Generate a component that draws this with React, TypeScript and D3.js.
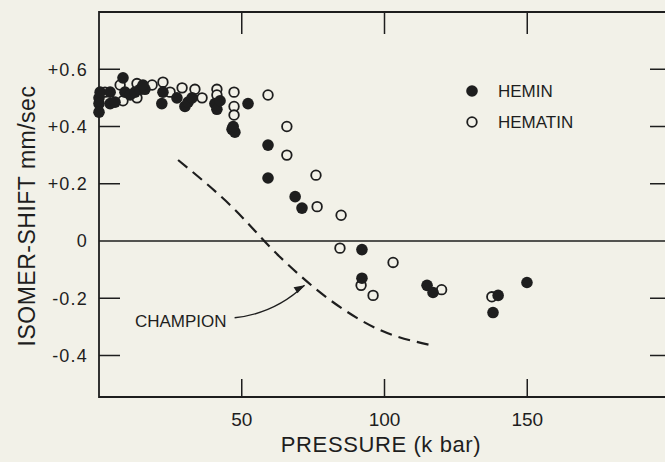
import { useEffect, useRef } from 'react'
import * as d3 from 'd3'

// Mössbauer isomer shift vs pressure
const heminX = [0, 0, 0, 0.4, 3.9, 3.9, 5.6, 8.4, 9.1, 10.9, 12.6, 14.4, 16.1, 15.4, 22, 22.4, 27.3, 30.1, 31.2, 32.6, 40.6, 41.3, 42.4, 46.6, 47.6, 47, 52.2, 59.2, 59.2, 68.7, 71.1, 92.1, 92.1, 114.9, 117, 139.8, 138, 149.9]
const heminY = [0.50, 0.48, 0.45, 0.52, 0.52, 0.48, 0.485, 0.57, 0.52, 0.51, 0.52, 0.53, 0.53, 0.545, 0.48, 0.52, 0.50, 0.47, 0.485, 0.50, 0.48, 0.46, 0.49, 0.39, 0.38, 0.40, 0.48, 0.335, 0.22, 0.155, 0.115, -0.03, -0.13, -0.155, -0.18, -0.19, -0.25, -0.145]

const hematinX = [2.1, 7.4, 8.4, 13.3, 13.3, 18.6, 22.4, 24.9, 29.1, 33.6, 36.1, 41.3, 41.3, 47.3, 47.3, 47.3, 59.2, 65.8, 65.8, 76, 76.4, 84.8, 84.4, 103, 91.8, 96, 120, 137.6]
const hematinY = [0.52, 0.545, 0.49, 0.55, 0.50, 0.545, 0.555, 0.52, 0.535, 0.53, 0.50, 0.53, 0.51, 0.52, 0.47, 0.44, 0.51, 0.40, 0.30, 0.23, 0.12, 0.09, -0.025, -0.075, -0.155, -0.19, -0.17, -0.195]

// Champion calculated curve (dashed)
const championX = [27.7, 45.9, 63.4, 80.9, 98.4, 115.9]
const championY = [0.283, 0.126, -0.056, -0.206, -0.311, -0.363]

const xTicks = [50, 100, 150]
const yTicks = [0.6, 0.4, 0.2, 0, -0.2, -0.4]
const yTickLabels = ['+0.6', '+0.4', '+0.2', '0', '-0.2', '-0.4']

const W = 665
const H = 462
const FONT = '"Liberation Sans", Arial, sans-serif'
const INK = '#1e1e1e'
const PAPER = '#f2f1e8'

export default function App() {
  const svgRef = useRef<SVGSVGElement>(null)

  useEffect(() => {
    if (!svgRef.current) return
    document.body.style.margin = '0'
    const svg = d3.select(svgRef.current)
    svg.selectAll('*').remove()

    const x = d3.scaleLinear().domain([0, 200]).range([99, 670])
    const y = d3.scaleLinear().domain([-0.545, 0.8]).range([397, 12])

    svg.append('rect').attr('width', W).attr('height', H).attr('fill', PAPER)

    const g = svg.append('g')

    // frame
    g.append('path')
      .attr('d', `M${x(200)},${y(0.8)}H${x(0)}V${y(-0.545)}H${x(200)}`)
      .attr('fill', 'none').attr('stroke', INK).attr('stroke-width', 1.8)

    // zero line
    g.append('line')
      .attr('x1', x(0)).attr('x2', x(200)).attr('y1', y(0)).attr('y2', y(0))
      .attr('stroke', INK).attr('stroke-width', 1.4)

    // x ticks top & bottom
    for (const t of xTicks) {
      g.append('line').attr('x1', x(t)).attr('x2', x(t)).attr('y1', y(-0.545)).attr('y2', y(-0.545) - 18)
        .attr('stroke', INK).attr('stroke-width', 1.5)
      g.append('line').attr('x1', x(t)).attr('x2', x(t)).attr('y1', y(0.8)).attr('y2', y(0.8) + 22)
        .attr('stroke', INK).attr('stroke-width', 1.5)
      g.append('text').attr('x', x(t)).attr('y', 426)
        .attr('text-anchor', 'middle').attr('font-family', FONT).attr('font-size', 19).attr('fill', INK)
        .text(t)
    }

    // y ticks left & right
    yTicks.forEach((t, i) => {
      if (t !== 0) {
        g.append('line').attr('x1', x(0)).attr('x2', x(0) + 21).attr('y1', y(t)).attr('y2', y(t))
          .attr('stroke', INK).attr('stroke-width', 1.5)
        g.append('line').attr('x1', 650).attr('x2', 670).attr('y1', y(t)).attr('y2', y(t))
          .attr('stroke', INK).attr('stroke-width', 1.5)
      }
      g.append('text').attr('x', 88).attr('y', y(t) + 6.5)
        .attr('text-anchor', 'end').attr('font-family', FONT).attr('font-size', 18).attr('fill', INK)
        .attr('letter-spacing', 1.2)
        .text(yTickLabels[i])
    })

    // axis titles
    g.append('text')
      .attr('transform', `translate(35,216) rotate(-90)`)
      .attr('text-anchor', 'middle').attr('font-family', FONT).attr('font-size', 23).attr('fill', INK)
      .attr('letter-spacing', 0.5)
      .text('ISOMER-SHIFT  mm/sec')
    g.append('text')
      .attr('x', 381).attr('y', 452)
      .attr('text-anchor', 'middle').attr('font-family', FONT).attr('font-size', 22).attr('fill', INK)
      .attr('letter-spacing', 0.6)
      .text('PRESSURE  (k bar)')

    // Champion dashed curve
    const line = d3.line<number>()
      .x((_, i) => x(championX[i]))
      .y(d => y(d))
      .curve(d3.curveMonotoneX)
    g.append('path')
      .datum(championY)
      .attr('d', line)
      .attr('fill', 'none').attr('stroke', INK).attr('stroke-width', 2.2)
      .attr('stroke-dasharray', '12,7')

    // CHAMPION label + arrow
    g.append('text').attr('x', x(12.6)).attr('y', y(-0.275) + 7)
      .attr('font-family', FONT).attr('font-size', 17).attr('fill', INK)
      .text('CHAMPION')
    const ax0 = x(47.5), ay0 = y(-0.268), ax1 = x(72), ay1 = y(-0.155)
    g.append('path')
      .attr('d', `M${ax0},${ay0} Q${ax0 + 40},${ay0 - 4} ${ax1},${ay1}`)
      .attr('fill', 'none').attr('stroke', INK).attr('stroke-width', 1.4)
    g.append('path')
      .attr('d', `M${ax1},${ay1} l-11,2 l4,6 z`)
      .attr('fill', INK)

    // data points
    const heminData = heminX.map((v, i) => [v, heminY[i]])
    const hematinData = hematinX.map((v, i) => [v, hematinY[i]])

    g.append('g').selectAll('circle').data(hematinData).join('circle')
      .attr('cx', d => x(d[0])).attr('cy', d => y(d[1])).attr('r', 4.8)
      .attr('fill', PAPER).attr('stroke', INK).attr('stroke-width', 1.8)
    g.append('g').selectAll('circle').data(heminData).join('circle')
      .attr('cx', d => x(d[0])).attr('cy', d => y(d[1])).attr('r', 5.8)
      .attr('fill', INK)

    // legend
    const lg = g.append('g').attr('transform', 'translate(472,0)')
    lg.append('circle').attr('cx', 0).attr('cy', 91).attr('r', 5.8).attr('fill', INK)
    lg.append('text').attr('x', 26).attr('y', 97).attr('font-family', FONT).attr('font-size', 17).attr('fill', INK).text('HEMIN')
    lg.append('circle').attr('cx', 0).attr('cy', 122).attr('r', 4.8)
      .attr('fill', 'none').attr('stroke', INK).attr('stroke-width', 1.8)
    lg.append('text').attr('x', 26).attr('y', 128).attr('font-family', FONT).attr('font-size', 17).attr('fill', INK).text('HEMATIN')
  }, [])

  return (
    <svg ref={svgRef} width={W} height={H} style={{ position: 'absolute', left: 0, top: 0, display: 'block' }} />
  )
}
